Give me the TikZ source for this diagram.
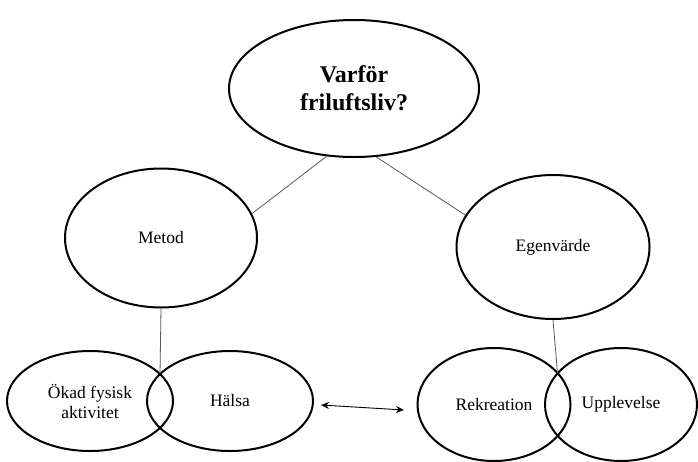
\documentclass[tikz,border=0pt]{standalone}
\usepackage{fontspec}
\setmainfont{Liberation Serif}
\usetikzlibrary{shapes.geometric,arrows.meta}
\begin{document}
\begin{tikzpicture}[x=1pt,y=-1pt,
  oval/.style={draw=black,line width=2pt,ellipse,inner sep=0pt,align=center,font=\fontsize{17.5}{20}\selectfont},
  link/.style={draw=black!65,line width=0.8pt},
  both/.style={draw=black,line width=0.9pt,{Stealth[length=8pt,width=7pt]}-{Stealth[length=8pt,width=7pt]}}]
\useasboundingbox[fill=white] (0,0) rectangle (698,461);
\node[oval,minimum width=250pt,minimum height=137pt,font=\bfseries\fontsize{24}{28}\selectfont] (top) at (354,88.5) {Varför\\friluftsliv?};
\node[oval,minimum width=192pt,minimum height=139pt] (metod) at (161,238) {Metod};
\node[oval,minimum width=193pt,minimum height=144pt] (egen) at (553,247) {\raisebox{-3pt}{Egenvärde}};
\node[oval,minimum width=166pt,minimum height=100pt] (okad) at (90,401) {Ökad fysisk\\aktivitet};
\node[oval,minimum width=166pt,minimum height=100pt] (halsa) at (230,401) {Hälsa};
\node[oval,minimum width=153pt,minimum height=113pt] (rekr) at (494,404.5) {\raisebox{-3pt}{Rekreation}};
\node[oval,minimum width=152pt,minimum height=113pt] (uppl) at (621,404.5) {\raisebox{-2pt}{Upplevelse}};
\coordinate (j1) at (160,374);
\coordinate (j2) at (557.5,373);
\coordinate (a1) at (321,405);
\coordinate (a2) at (404,410);
\draw[link] (top.248) -- (metod.15);
\draw[link] (top.288) -- (egen.160);
\draw[link] (metod.south) -- (j1);
\draw[link] (egen.south) -- (j2);
\draw[both] (a1) -- (a2);
\end{tikzpicture}
\end{document}
